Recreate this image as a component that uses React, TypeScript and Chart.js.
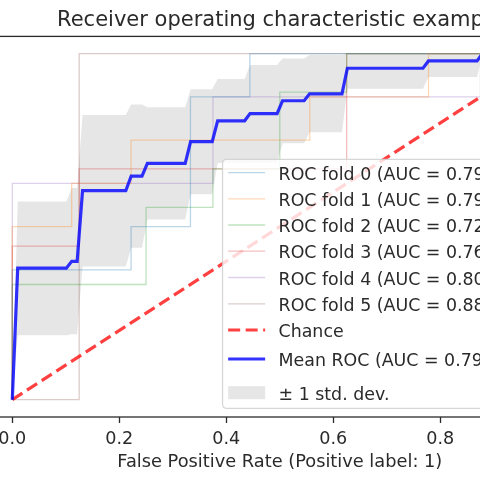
import { useEffect, useRef } from "react";
import { Chart, registerables } from "chart.js";

Chart.register(...registerables);

// ---------- data ----------
const titleText = "Receiver operating characteristic example";
const xAxisLabel = "False Positive Rate (Positive label: 1)";
const xTickValues = [0, 0.2, 0.4, 0.6, 0.8, 1.0];

const foldAuc = [0.79, 0.79, 0.72, 0.76, 0.8, 0.88];

const fold0Fpr = [0, 0, 0.222, 0.222, 0.333, 0.333, 0.444, 0.444, 1];
const fold0Tpr = [0, 0.375, 0.375, 0.5, 0.5, 0.875, 0.875, 1, 1];
const fold1Fpr = [0, 0, 0.111, 0.111, 0.222, 0.222, 0.556, 0.556, 0.778, 0.778, 1];
const fold1Tpr = [0, 0.5, 0.5, 0.625, 0.625, 0.75, 0.75, 0.875, 0.875, 1, 1];
const fold2Fpr = [0, 0, 0.25, 0.25, 0.375, 0.375, 0.5, 0.5, 0.625, 0.625, 1];
const fold2Tpr = [0, 0.333, 0.333, 0.556, 0.556, 0.667, 0.667, 0.889, 0.889, 1, 1];
const fold3Fpr = [0, 0, 0.125, 0.125, 0.625, 0.625, 1];
const fold3Tpr = [0, 0.444, 0.444, 0.667, 0.667, 1, 1];
const fold4Fpr = [0, 0, 0.375, 0.375, 0.875, 0.875, 1];
const fold4Tpr = [0, 0.625, 0.625, 0.875, 0.875, 1, 1];
const fold5Fpr = [0, 0.125, 0.125, 1];
const fold5Tpr = [0, 0, 1, 1];

const chanceFpr = [0, 1];
const chanceTpr = [0, 1];

const meanAuc = 0.79;
const meanAucStd = 0.05;
const meanFpr = [
  0, 0.0101, 0.101, 0.1111, 0.1212, 0.1313, 0.2121, 0.2222, 0.2424, 0.2525,
  0.3232, 0.3333, 0.3737, 0.3838, 0.4343, 0.4444, 0.4949, 0.5051, 0.5455,
  0.5556, 0.6162, 0.6263, 0.7677, 0.7778, 0.8687, 0.8788, 1,
];
const meanTpr = [
  0, 0.38, 0.38, 0.4, 0.4, 0.604, 0.604, 0.646, 0.646, 0.683, 0.683, 0.746,
  0.746, 0.806, 0.806, 0.827, 0.827, 0.864, 0.864, 0.884, 0.884, 0.958, 0.958,
  0.979, 0.979, 1, 1,
];
const upperTpr = [
  0, 0.573, 0.573, 0.612, 0.612, 0.823, 0.823, 0.853, 0.853, 0.845, 0.845,
  0.897, 0.897, 0.927, 0.927, 0.967, 0.967, 0.986, 0.986, 0.996, 0.996, 1, 1,
  1, 1, 1, 1,
];
const lowerTpr = [
  0, 0.186, 0.186, 0.189, 0.189, 0.385, 0.385, 0.439, 0.439, 0.521, 0.521,
  0.594, 0.594, 0.684, 0.684, 0.685, 0.685, 0.741, 0.741, 0.773, 0.773, 0.899,
  0.899, 0.933, 0.933, 1, 1,
];

const foldFprs = [fold0Fpr, fold1Fpr, fold2Fpr, fold3Fpr, fold4Fpr, fold5Fpr];
const foldTprs = [fold0Tpr, fold1Tpr, fold2Tpr, fold3Tpr, fold4Tpr, fold5Tpr];

// ---------- styles ----------
const FONT = "'DejaVu Sans', 'Liberation Sans', sans-serif";
const TEXT = "#2a2a2a";
const foldColors = [
  "rgba(31,119,180,0.3)",
  "rgba(255,127,14,0.3)",
  "rgba(44,160,44,0.3)",
  "rgba(214,39,40,0.3)",
  "rgba(148,103,189,0.3)",
  "rgba(140,86,75,0.3)",
];
const chanceColor = "rgba(255,0,0,0.75)";
const meanColor = "rgba(0,0,255,0.8)";
const bandColor = "rgba(128,128,128,0.2)";
const dash = [12, 5.5];

const toPoints = (xs: number[], ys: number[]) =>
  xs.map((x, i) => ({ x, y: ys[i] }));

type LegendEntry = {
  label: string;
  kind: "line" | "patch";
  color: string;
  width?: number;
  dash?: number[];
};

const legendRowOffsets = [13.4, 39.6, 65.7, 91.8, 118.2, 144.5, 170.7, 199.7, 233.4];

function makeLegendPlugin(entries: LegendEntry[]) {
  return {
    id: "mplLegend",
    afterDraw(chart: any) {
      const { ctx, chartArea } = chart;
      const right = chartArea.right - 8.5;
      const bottom = chartArea.bottom - 8.7;
      const width = 343;
      const height = 249;
      const left = right - width;
      const top = bottom - height;
      const r = 4;
      ctx.save();
      ctx.beginPath();
      ctx.moveTo(left + r, top);
      ctx.lineTo(right - r, top);
      ctx.quadraticCurveTo(right, top, right, top + r);
      ctx.lineTo(right, bottom - r);
      ctx.quadraticCurveTo(right, bottom, right - r, bottom);
      ctx.lineTo(left + r, bottom);
      ctx.quadraticCurveTo(left, bottom, left, bottom - r);
      ctx.lineTo(left, top + r);
      ctx.quadraticCurveTo(left, top, left + r, top);
      ctx.closePath();
      ctx.fillStyle = "rgba(255,255,255,0.8)";
      ctx.fill();
      ctx.lineWidth = 1.2;
      ctx.strokeStyle = "rgba(204,204,204,0.8)";
      ctx.stroke();

      ctx.font = `17.4px ${FONT}`;
      ctx.textAlign = "left";
      ctx.textBaseline = "alphabetic";
      entries.forEach((e, i) => {
        const cy = top + legendRowOffsets[i];
        const hx0 = left + 5.6;
        const hx1 = hx0 + 37;
        if (e.kind === "patch") {
          ctx.fillStyle = e.color;
          ctx.fillRect(hx0, cy - 6.5, hx1 - hx0, 13);
        } else {
          ctx.beginPath();
          ctx.setLineDash(e.dash || []);
          ctx.lineWidth = e.width || 1;
          ctx.strokeStyle = e.color;
          ctx.lineCap = "butt";
          ctx.moveTo(hx0, cy);
          ctx.lineTo(hx1, cy);
          ctx.stroke();
          ctx.setLineDash([]);
        }
        ctx.fillStyle = TEXT;
        ctx.fillText(e.label, left + 56, cy + 7);
      });
      ctx.restore();
    },
  };
}

const framePlugin = {
  id: "frame",
  afterDatasetsDraw(chart: any) {
    const { ctx, chartArea } = chart;
    ctx.save();
    ctx.lineWidth = 1.3;
    ctx.strokeStyle = TEXT;
    ctx.strokeRect(
      chartArea.left,
      chartArea.top,
      chartArea.right - chartArea.left,
      chartArea.bottom - chartArea.top
    );
    ctx.restore();
  },
};

export default function App() {
  const ref = useRef<HTMLCanvasElement>(null);

  useEffect(() => {
    if (!ref.current) return;
    const foldLabels = foldAuc.map(
      (a, i) => `ROC fold ${i} (AUC = ${a.toFixed(2)})`
    );
    const meanLabel = `Mean ROC (AUC = ${meanAuc.toFixed(2)} \u00b1 ${meanAucStd.toFixed(2)})`;
    const bandLabel = "\u00b1 1 std. dev.";

    const datasets: any[] = [];
    foldFprs.forEach((fpr, i) => {
      datasets.push({
        label: foldLabels[i],
        data: toPoints(fpr, foldTprs[i]),
        borderColor: foldColors[i],
        borderWidth: 1.3,
        pointRadius: 0,
        fill: false,
        order: 5,
      });
    });
    datasets.push({
      label: "Chance",
      data: toPoints(chanceFpr, chanceTpr),
      borderColor: chanceColor,
      borderWidth: 3.2,
      borderDash: dash,
      pointRadius: 0,
      fill: false,
      order: 2,
    });
    datasets.push({
      label: meanLabel,
      data: toPoints(meanFpr, meanTpr),
      borderColor: meanColor,
      borderWidth: 3.2,
      pointRadius: 0,
      fill: false,
      order: 1,
    });
    datasets.push({
      label: bandLabel,
      data: toPoints(meanFpr, upperTpr),
      borderWidth: 0,
      borderColor: "rgba(0,0,0,0)",
      backgroundColor: bandColor,
      pointRadius: 0,
      fill: "+1",
      order: 10,
    });
    datasets.push({
      label: "lower",
      data: toPoints(meanFpr, lowerTpr),
      borderWidth: 0,
      borderColor: "rgba(0,0,0,0)",
      pointRadius: 0,
      fill: false,
      order: 10,
    });

    const entries: LegendEntry[] = [
      ...foldLabels.map((l, i) => ({
        label: l,
        kind: "line" as const,
        color: foldColors[i],
        width: 1.3,
      })),
      { label: "Chance", kind: "line", color: chanceColor, width: 3.2, dash },
      { label: meanLabel, kind: "line", color: meanColor, width: 3.2 },
      { label: bandLabel, kind: "patch", color: bandColor },
    ];

    const chart = new Chart(ref.current, {
      type: "line",
      data: { datasets },
      options: {
        animation: false,
        responsive: false,
        events: [],
        layout: {
          autoPadding: false,
          padding: { left: 25.55, right: 25.95, top: 0, bottom: 0 },
        },
        plugins: {
          legend: { display: false },
          tooltip: { enabled: false },
          filler: { drawTime: "beforeDatasetsDraw" },
          title: {
            display: true,
            text: titleText,
            color: TEXT,
            font: { family: FONT, size: 21, weight: "normal" },
            padding: { top: 7.6, bottom: 3.6 },
          },
        },
        scales: {
          x: {
            type: "linear",
            min: -0.05,
            max: 1.05,
            afterBuildTicks: (axis: any) => {
              axis.ticks = xTickValues.map((v) => ({ value: v }));
            },
            afterFit: (axis: any) => {
              axis.height = 63;
            },
            grid: {
              drawOnChartArea: false,
              drawTicks: true,
              tickLength: 6,
              tickWidth: 1.3,
              tickColor: TEXT,
            },
            border: { display: false },
            ticks: {
              color: TEXT,
              padding: 6,
              maxRotation: 0,
              font: { family: FONT, size: 17.6 },
              callback: (v: any) => Number(v).toFixed(1),
            },
            title: {
              display: true,
              text: xAxisLabel,
              color: TEXT,
              font: { family: FONT, size: 17.8 },
              padding: { top: 0, bottom: 7 },
            },
          },
          y: {
            type: "linear",
            min: -0.05,
            max: 1.05,
            display: false,
          },
        },
      },
      plugins: [framePlugin, makeLegendPlugin(entries)],
    } as any);

    return () => chart.destroy();
  }, []);

  return (
    <div
      style={{
        position: "fixed",
        left: 0,
        top: 0,
        width: 480,
        height: 480,
        overflow: "hidden",
        background: "#fff",
      }}
    >
      <canvas
        ref={ref}
        width={640}
        height={480}
        style={{ position: "absolute", left: -40, top: 0, width: 640, height: 480 }}
      />
    </div>
  );
}
